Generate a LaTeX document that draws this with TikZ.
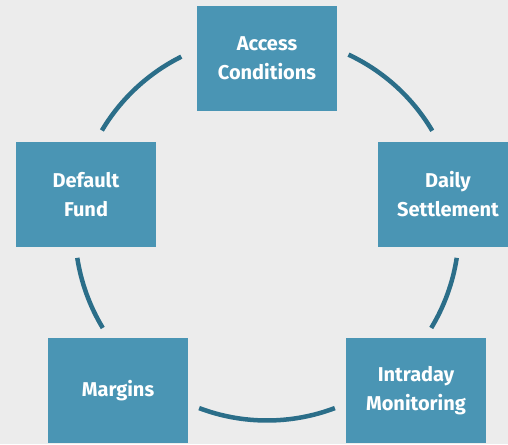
\documentclass[tikz,border=0pt]{standalone}
\usepackage{fontspec}
\setmainfont{Fira Sans}
\definecolor{bgc}{HTML}{ECECEC}
\definecolor{boxc}{HTML}{4A95B4}
\definecolor{arcc}{HTML}{2B6E89}
\begin{document}
\begin{tikzpicture}[x=1pt,y=1pt,
  box/.style={fill=boxc, minimum width=140pt, minimum height=105pt, inner sep=0pt,
    align=center, text=white, font=\fontsize{20}{29}\selectfont\bfseries},
  ring/.style={draw=arcc, line width=4.5pt}]
\fill[bgc] (0,0) rectangle (508,444);
\useasboundingbox (0,0) rectangle (508,444);
\clip (0,0) rectangle (508,444);
\coordinate (c) at (267,215.5);
\node[box] (access) at (267,385.5) {Access\\Conditions};
\node[box] (daily) at (448,249.5) {Daily\\Settlement};
\node[box] (default) at (86,249.5) {Default\\Fund};
\node[box] (margins) at (118,53.5) {Margins};
\node[box] (intraday) at (416,53.5) {Intraday\\Monitoring};
\draw[ring] (c) ++(149.3:192) arc[start angle=149.3, end angle=116.5, radius=192];
\draw[ring] (c) ++(64.9:192) arc[start angle=64.9, end angle=30.6, radius=192];
\draw[ring] (c) ++(-8.8:192) arc[start angle=-8.8, end angle=-31.2, radius=192];
\draw[ring] (c) ++(-69.3:192) arc[start angle=-69.3, end angle=-110.7, radius=192];
\draw[ring] (c) ++(-148.8:192) arc[start angle=-148.8, end angle=-171.2, radius=192];
\end{tikzpicture}
\end{document}
